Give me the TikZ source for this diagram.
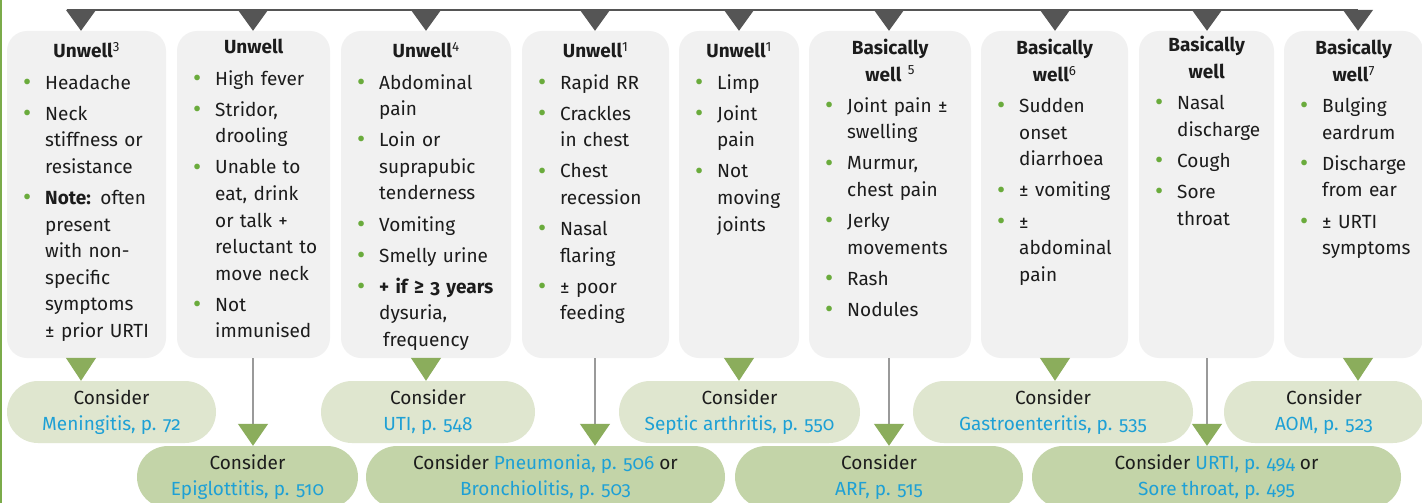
\documentclass[tikz,border=0pt]{standalone}
\usepackage{fontspec}
\setmainfont{Fira Sans}[Numbers=OldStyle]
\usetikzlibrary{arrows.meta}

\definecolor{boxgray}{HTML}{F1F1F1}
\definecolor{pilllight}{HTML}{DFE6CF}
\definecolor{pilldeep}{HTML}{C3D4A8}
\definecolor{tipgreen}{HTML}{8BAD5C}
\definecolor{tipgray}{HTML}{555555}
\definecolor{stemgray}{HTML}{9A9A9A}
\definecolor{linkblue}{HTML}{1EA0D5}
\definecolor{bulgreen}{HTML}{6AAB3C}
\definecolor{edgegreen}{HTML}{7BAB4A}
\definecolor{inkblack}{HTML}{1C1C1C}

\newcommand\bodysize{\fontsize{19pt}{26.6pt}\selectfont}
\newcommand\fnote[1]{\textsuperscript{\mdseries\addfontfeatures{Numbers=Lining}#1}}
\newcommand\nextln{\newline}
\newcommand\itm[1]{\par\hangindent=21pt\hangafter=1\noindent
  \makebox[21pt][l]{\hspace*{-1pt}\raisebox{-1.2pt}{\fontsize{25pt}{25pt}\selectfont\textcolor{bulgreen}{•}}}#1\par}
\newcommand\ttl[1]{{\centering\advance\rightskip by 17pt\bfseries #1\par}}
\newcommand\lnk[1]{\textcolor{linkblue}{#1}}

\tikzset{
  symbox/.style={fill=boxgray, rounded corners=20pt, minimum height=327pt, inner sep=0pt},
  symtext/.style={anchor=base west, inner sep=0pt, text=inkblack, font=\bodysize,
    execute at begin node={\raggedright\setlength\parskip{4.5pt}}},
  litepill/.style={fill=pilllight, rounded corners=31pt, minimum height=62pt, inner sep=0pt,
    align=center, font=\bodysize, text=inkblack},
  deeppill/.style={litepill, fill=pilldeep},
  topdrop/.style={tipgray, line width=1.2pt, -{Triangle[width=30pt, length=21pt]}},
  shortdrop/.style={stemgray, line width=1.3pt, -{Triangle[width=30pt, length=23pt, color=tipgreen]}},
  longdrop/.style={stemgray, line width=1.3pt, -{Triangle[width=30pt, length=22pt, color=tipgreen]}}
}

\begin{document}
\begin{tikzpicture}[x=1pt, y=-1pt]
  \useasboundingbox (0,0) rectangle (1422,503);
  \clip (0,0) rectangle (1422,503);
  \fill[white] (0,0) rectangle (1422,503);
  \draw[edgegreen, line width=1.2pt] (1,0) -- (1,503);

  % top bar
  \coordinate (barL) at (67,10);
  \coordinate (bar1) at (81,10);
  \coordinate (bar2) at (253,10);
  \coordinate (bar3) at (426,10);
  \coordinate (bar4) at (595,10);
  \coordinate (bar5) at (739,10);
  \coordinate (bar6) at (889,10);
  \coordinate (bar7) at (1055,10);
  \coordinate (bar8) at (1207,10);
  \coordinate (bar9) at (1358,10);
  \draw[tipgray, line width=1.2pt] (barL) -- (bar9);

  % symptom boxes
  \node[symbox, minimum width=159pt] (box1) at (86.5,194.5) {};
  \node[symbox, minimum width=153pt] (box2) at (253.5,194.5) {};
  \node[symbox, minimum width=170pt] (box3) at (426,194.5) {};
  \node[symbox, minimum width=147pt] (box4) at (595.5,194.5) {};
  \node[symbox, minimum width=120pt] (box5) at (739,194.5) {};
  \node[symbox, minimum width=162pt] (box6) at (890,194.5) {};
  \node[symbox, minimum width=147pt] (box7) at (1054.5,194.5) {};
  \node[symbox, minimum width=135pt] (box8) at (1206.5,194.5) {};
  \node[symbox, minimum width=139pt] (box9) at (1353.5,194.5) {};

  \node[symtext, text width=142pt] (txt1) at (24,58) {%
    \ttl{Unwell\fnote{3}}
    \itm{Headache}
    \itm{Neck\nextln stiffness or\nextln resistance}
    \itm{\textbf{Note:} often\nextln present\nextln with non-\nextln specific\nextln symptoms\nextln ± prior URTI}};
  \node[symtext, text width=136pt] (txt2) at (194,54) {%
    \ttl{Unwell}
    \itm{High fever}
    \itm{Stridor,\nextln drooling}
    \itm{Unable to\nextln eat, drink\nextln or talk +\nextln reluctant to\nextln move neck}
    \itm{Not\nextln immunised}};
  \node[symtext, text width=153pt] (txt3) at (358,58) {%
    \ttl{Unwell\fnote{4}}
    \itm{Abdominal\nextln pain}
    \itm{Loin or\nextln suprapubic\nextln tenderness}
    \itm{Vomiting}
    \itm{Smelly urine}
    \itm{\textbf{+ if ≥ 3 years}\nextln dysuria,\nextln\hspace*{4pt}frequency}};
  \node[symtext, text width=130pt] (txt4) at (539,58) {%
    \ttl{Unwell\fnote{1}}
    \itm{Rapid RR}
    \itm{Crackles\nextln in chest}
    \itm{Chest\nextln recession}
    \itm{Nasal\nextln flaring}
    \itm{± poor\nextln feeding}};
  \node[symtext, text width=103pt] (txt5) at (696,58) {%
    \ttl{Unwell\fnote{1}}
    \itm{Limp}
    \itm{Joint\nextln pain}
    \itm{Not\nextln moving\nextln joints}};
  \node[symtext, text width=145pt] (txt6) at (826,54.5) {%
    \ttl{Basically\\ well \fnote{5}}
    \itm{Joint pain ±\nextln swelling}
    \itm{Murmur,\nextln chest pain}
    \itm{Jerky\nextln movements}
    \itm{Rash}
    \itm{Nodules}};
  \node[symtext, text width=130pt] (txt7) at (998,55) {%
    \ttl{Basically\\ well\fnote{6}}
    \itm{Sudden\nextln onset\nextln diarrhoea}
    \itm{± vomiting}
    \itm{±\nextln abdominal\nextln pain}};
  \node[symtext, text width=118pt] (txt8) at (1156,52) {%
    \ttl{Basically\\ well}
    \itm{Nasal\nextln discharge}
    \itm{Cough}
    \itm{Sore\nextln throat}};
  \node[symtext, text width=122pt] (txt9) at (1301,55) {%
    \ttl{Basically\\ well\fnote{7}}
    \itm{Bulging\nextln eardrum}
    \itm{Discharge\nextln from ear}
    \itm{± URTI\nextln symptoms}};

  % diagnosis pills
  \node[litepill, minimum width=209pt] (mening) at (111.5,412) {Consider\\\lnk{Meningitis, p. 72}};
  \node[litepill, minimum width=214pt] (uti) at (428,412) {Consider\\\lnk{UTI, p. 548}};
  \node[litepill, minimum width=241pt] (septic) at (739.5,412) {Consider\\\lnk{Septic arthritis, p. 550}};
  \node[litepill, minimum width=280pt] (gastro) at (1053,412) {Consider\\\lnk{Gastroenteritis, p. 535}};
  \node[litepill, minimum width=200pt] (aom) at (1324,412) {Consider\\\lnk{AOM, p. 523}};
  \node[deeppill, minimum width=221pt] (epig) at (247.5,477) {Consider\\\lnk{Epiglottitis, p. 510}};
  \node[deeppill, minimum width=359pt] (pneum) at (545.5,477) {Consider \lnk{Pneumonia, p. 506} or\\\lnk{Bronchiolitis, p. 503}};
  \node[deeppill, minimum width=288pt] (arf) at (879,477) {Consider\\\lnk{ARF, p. 515}};
  \node[deeppill, minimum width=369pt] (urti) at (1216.5,477) {Consider \lnk{URTI, p. 494} or\\\lnk{Sore throat, p. 495}};

  % bar to boxes
  \draw[topdrop] (bar1) -- (bar1 |- box1.north);
  \draw[topdrop] (bar2) -- (bar2 |- box2.north);
  \draw[topdrop] (bar3) -- (bar3 |- box3.north);
  \draw[topdrop] (bar4) -- (bar4 |- box4.north);
  \draw[topdrop] (bar5) -- (bar5 |- box5.north);
  \draw[topdrop] (bar6) -- (bar6 |- box6.north);
  \draw[topdrop] (bar7) -- (bar7 |- box7.north);
  \draw[topdrop] (bar8) -- (bar8 |- box8.north);
  \draw[topdrop] (bar9) -- (bar9 |- box9.north);

  % boxes to pills
  \draw[shortdrop] (bar1 |- box1.south) -- (bar1 |- mening.north);
  \draw[longdrop] (bar2 |- box2.south) -- (bar2 |- epig.north);
  \draw[shortdrop] (bar3 |- box3.south) -- (bar3 |- uti.north);
  \draw[longdrop] (bar4 |- box4.south) -- (bar4 |- pneum.north);
  \draw[shortdrop] (bar5 |- box5.south) -- (bar5 |- septic.north);
  \draw[longdrop] (bar6 |- box6.south) -- (bar6 |- arf.north);
  \draw[shortdrop] (bar7 |- box7.south) -- (bar7 |- gastro.north);
  \draw[longdrop] (bar8 |- box8.south) -- (bar8 |- urti.north);
  \draw[shortdrop] (bar9 |- box9.south) -- (bar9 |- aom.north);
\end{tikzpicture}
\end{document}
